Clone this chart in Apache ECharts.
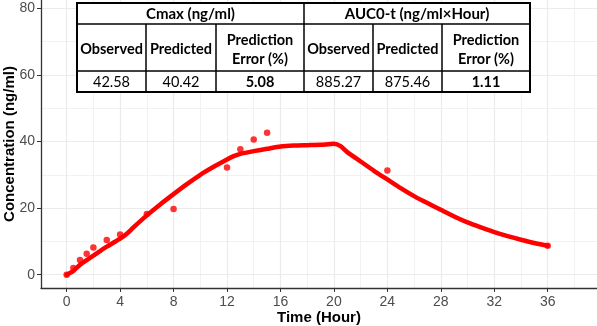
<!DOCTYPE html>
<html>
<head>
<meta charset="utf-8">
<script src="https://cdn.jsdelivr.net/npm/echarts@6/dist/echarts.min.js"></script>
<style>
html,body{margin:0;padding:0;background:#fff;}
#chart{width:597px;height:326px;}
</style>
</head>
<body>
<div id="chart"></div>
<script>
// Observed data
var obsTime = [0, 0.5, 1, 1.5, 2, 3, 4, 6, 8, 12, 13, 14, 15, 24, 36];
var obsConc = [0, 2.0, 4.4, 6.3, 8.2, 10.4, 12.1, 18.2, 19.7, 32.2, 37.7, 40.6, 42.6, 31.3, 8.7];
// Predicted profile
var predTime = [0, 0.5, 1, 1.5, 2, 2.5, 3, 3.5, 4, 4.5, 5, 6, 7, 8, 9, 10, 11, 12, 12.5, 13, 14, 15, 16, 17, 18, 19, 20, 20.5, 21, 22, 23, 24, 25, 26, 27, 28, 29, 30, 31, 32, 33, 34, 35, 36];
var predConc = [0, 1.1, 3.0, 4.4, 5.7, 7.1, 8.4, 9.6, 10.8, 12.3, 14.2, 17.8, 21.1, 24.2, 27.2, 30.0, 32.4, 34.6, 35.6, 36.3, 37.1, 37.8, 38.5, 38.8, 38.9, 39.0, 39.3, 38.6, 36.8, 34.0, 31.2, 28.6, 26.0, 23.6, 21.5, 19.5, 17.5, 15.7, 14.2, 12.8, 11.6, 10.5, 9.5, 8.7];
// Axis ticks
var xTicks = [0, 4, 8, 12, 16, 20, 24, 28, 32, 36];
var xMinor = [2, 6, 10, 14, 18, 22, 26, 30, 34, 38];
var yTicks = [0, 20, 40, 60, 80];
var yMinor = [10, 30, 50, 70];
// Table
var tableGroups = ['Cmax (ng/ml)', 'AUC0-t (ng/ml\u00d7Hour)'];
var tableHeaders = ['Observed', 'Predicted', 'Prediction\nError (%)', 'Observed', 'Predicted', 'Prediction\nError (%)'];
var tableValues = ['42.58', '40.42', '5.08', '885.27', '875.46', '1.11'];
var tableBold = [false, false, true, false, false, true];

var chart = echarts.init(document.getElementById('chart'), null, {renderer: 'canvas'});

function pairs(xs, ys) { return xs.map(function (x, i) { return [x, ys[i]]; }); }

var gridLines = [];
xMinor.forEach(function (v) { gridLines.push({xAxis: v, lineStyle: {color: '#F2F2F2', width: 1}}); });
yMinor.forEach(function (v) { gridLines.push({yAxis: v, lineStyle: {color: '#F2F2F2', width: 1}}); });
xTicks.forEach(function (v) { gridLines.push({xAxis: v, lineStyle: {color: '#EBEBEB', width: 1.2}}); });
yTicks.forEach(function (v) { gridLines.push({yAxis: v, lineStyle: {color: '#EBEBEB', width: 1.2}}); });

// Table graphics
var colX = [77, 146, 216, 304, 373, 442, 530];
var rowY = [3, 24, 71, 92];
var font = 'Lato, "Open Sans", sans-serif';
var fs = '14.5px ';
var g = [];
g.push({type: 'rect', shape: {x: colX[0], y: rowY[0], width: colX[6] - colX[0], height: rowY[3] - rowY[0]},
  style: {fill: '#fff', stroke: '#000', lineWidth: 2}, z: 100});
[1, 2].forEach(function (r) {
  g.push({type: 'line', shape: {x1: colX[0], y1: rowY[r], x2: colX[6], y2: rowY[r]}, style: {stroke: '#000', lineWidth: 1.5}, z: 101});
});
g.push({type: 'line', shape: {x1: colX[3], y1: rowY[0], x2: colX[3], y2: rowY[3]}, style: {stroke: '#000', lineWidth: 1.5}, z: 101});
[1, 2, 4, 5].forEach(function (c) {
  g.push({type: 'line', shape: {x1: colX[c], y1: rowY[1], x2: colX[c], y2: rowY[3]}, style: {stroke: '#000', lineWidth: 1.5}, z: 101});
});
tableGroups.forEach(function (t, i) {
  g.push({type: 'text', x: (colX[i * 3] + colX[i * 3 + 3]) / 2, y: (rowY[0] + rowY[1]) / 2 + 0.5,
    style: {text: t, font: 'bold 15px ' + font, fill: '#000', align: 'center', verticalAlign: 'middle'}, z: 102});
});
tableHeaders.forEach(function (t, i) {
  g.push({type: 'text', x: (colX[i] + colX[i + 1]) / 2, y: (rowY[1] + rowY[2]) / 2 + 2,
    style: {text: t, font: 'bold ' + fs + font, fill: '#000', align: 'center', verticalAlign: 'middle', lineHeight: 19}, z: 102});
});
tableValues.forEach(function (t, i) {
  g.push({type: 'text', x: (colX[i] + colX[i + 1]) / 2, y: (rowY[2] + rowY[3]) / 2 + 0.5,
    style: {text: t, font: (tableBold[i] ? 'bold ' : '') + fs + font, fill: '#000', align: 'center', verticalAlign: 'middle'}, z: 102});
});

var option = {
  animation: false,
  backgroundColor: '#fff',
  grid: {left: 41, right: 0, top: 0, bottom: 38, containLabel: false, outerBoundsMode: 'none'},
  xAxis: {
    type: 'value', min: -1.92, max: 39.69,
    name: 'Time (Hour)', nameLocation: 'middle', nameGap: 22, nameMoveOverlap: false,
    nameTextStyle: {fontFamily: 'Liberation Sans, Arial, sans-serif', fontWeight: 'bold', fontSize: 15, color: '#000', verticalAlign: 'top'},
    axisLine: {show: true, onZero: false, lineStyle: {color: '#333', width: 1.3}},
    axisTick: {show: true, customValues: xTicks, length: 4, lineStyle: {color: '#333', width: 1}},
    axisLabel: {customValues: xTicks, margin: 7, fontFamily: 'Liberation Sans, Arial, sans-serif', fontSize: 14, color: '#4D4D4D'},
    splitLine: {show: false}
  },
  yAxis: {
    type: 'value', min: -4, max: 82.5,
    name: 'Concentration (ng/ml)', nameLocation: 'middle', nameGap: 24, nameMoveOverlap: false,
    nameTextStyle: {fontFamily: 'Liberation Sans, Arial, sans-serif', fontWeight: 'bold', fontSize: 15, color: '#000'},
    axisLine: {show: true, onZero: false, lineStyle: {color: '#333', width: 1.3}},
    axisTick: {show: true, customValues: yTicks, length: 4, lineStyle: {color: '#333', width: 1}},
    axisLabel: {customValues: yTicks, margin: 6, fontFamily: 'Liberation Sans, Arial, sans-serif', fontSize: 14, color: '#4D4D4D'},
    splitLine: {show: false}
  },
  series: [
    {
      type: 'scatter', data: [], z: 0, silent: true,
      markLine: {z: 0, silent: true, symbol: ['none', 'none'], label: {show: false}, animation: false,
        lineStyle: {type: 'solid'}, data: gridLines}
    },
    {
      name: 'Predicted', type: 'line', data: pairs(predTime, predConc), showSymbol: false, symbol: 'none',
      smooth: 0.2, lineStyle: {color: '#FF0000', width: 4.5, cap: 'round', join: 'round'}, z: 3
    },
    {
      name: 'Observed', type: 'scatter', data: pairs(obsTime, obsConc), symbolSize: 6.5,
      itemStyle: {color: '#FF0000'}, z: 4
    }
  ],
  graphic: g
};
chart.setOption(option);
</script>
</body>
</html>
